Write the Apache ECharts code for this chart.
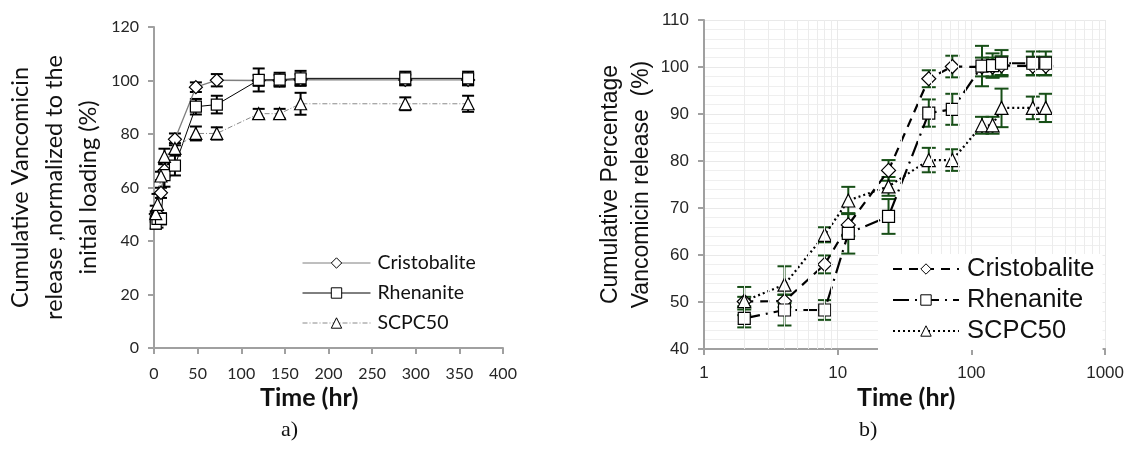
<!DOCTYPE html>
<html>
<head>
<meta charset="utf-8">
<script src="https://cdn.jsdelivr.net/npm/echarts@6/dist/echarts.min.js"></script>
<style>
  html, body { margin: 0; padding: 0; background: #fff; }
  #chart { width: 1127px; height: 454px; }
</style>
</head>
<body>
<div id="chart"></div>
<script>
// Sampling times (hours)
const times = [2, 4, 8, 12, 24, 48, 72, 120, 144, 168, 288, 360];

// Cumulative release (%) and standard deviations
const cristobalite    = [50.1, 50.2, 58.0, 66.4, 78.0, 97.5, 100.1, 100.0, 100.0, 100.3, 100.2, 100.2];
const cristobaliteErr = [1.0, 1.3, 1.9, 2.4, 2.2, 1.8, 2.3, 2.0, 2.0, 2.0, 2.0, 2.0];
const rhenanite       = [46.5, 48.3, 48.3, 64.6, 68.2, 90.2, 91.0, 100.2, 100.3, 100.8, 100.8, 100.8];
const rhenaniteErr    = [1.9, 3.3, 2.1, 4.3, 3.7, 2.9, 3.3, 4.3, 2.6, 2.8, 2.5, 2.5];
const scpc50          = [50.2, 53.7, 64.3, 71.6, 74.6, 80.2, 80.2, 87.6, 87.6, 91.3, 91.3, 91.3];
const scpc50Err       = [3.0, 3.9, 1.6, 2.9, 2.0, 2.6, 2.3, 1.8, 1.8, 4.1, 2.4, 3.0];

const seriesNames = ['Cristobalite', 'Rhenanite', 'SCPC50'];

// Axis ranges / ticks
const linTimeTicks = { min: 0, max: 400, interval: 50 };
const linPctTicks  = { min: 0, max: 120, interval: 20 };
const logTimeTicks = { min: 1, max: 1000 };
const logPctTicks  = { min: 40, max: 110, interval: 10 };

// Vertical log-grid lines at 2..9 of each decade
const logMinorX = [];
for (let d = 1; d < 1000; d *= 10) {
  for (let k = 2; k <= 9; k++) logMinorX.push(k * d);
}

const axisGray = '#a0a0a0';
const tickText = '#262626';
const errGreen = '#174f17';

function pairs(vals) { return times.map((t, i) => [t, vals[i]]); }

function errorBars(vals, errs, axisIdx, color, cap) {
  return {
    type: 'custom',
    xAxisIndex: axisIdx, yAxisIndex: axisIdx,
    z: 1, silent: true,
    encode: { x: 0, y: 1 },
    data: times.map((t, i) => [t, vals[i], errs[i]]),
    renderItem: function (params, api) {
      const x = api.value(0), y = api.value(1), e = api.value(2);
      const top = api.coord([x, y + e]);
      const bot = api.coord([x, y - e]);
      const w = cap / 2;
      const st = { stroke: color, lineWidth: 2 };
      return {
        type: 'group',
        children: [
          { type: 'line', shape: { x1: top[0], y1: top[1], x2: bot[0], y2: bot[1] }, style: st },
          { type: 'line', shape: { x1: top[0] - w, y1: top[1], x2: top[0] + w, y2: top[1] }, style: st },
          { type: 'line', shape: { x1: bot[0] - w, y1: bot[1], x2: bot[0] + w, y2: bot[1] }, style: st }
        ]
      };
    }
  };
}

function curve(name, vals, axisIdx, symbol, size, lineStyle) {
  return {
    type: 'line', name: name,
    xAxisIndex: axisIdx, yAxisIndex: axisIdx,
    z: 3,
    data: pairs(vals),
    symbol: symbol, symbolSize: size, showSymbol: true,
    lineStyle: lineStyle,
    itemStyle: { color: '#ffffff', borderColor: '#000000', borderWidth: 1.2 },
    emphasis: { disabled: true }
  };
}

// Panel b series carry a prefix so the two legends pick their own styles
const bName = n => 'b:' + n;

const chart = echarts.init(document.getElementById('chart'), null, { renderer: 'canvas' });

chart.setOption({
  animation: false,
  backgroundColor: '#ffffff',
  grid: [
    { left: 154, top: 27, width: 349, height: 321 },
    { left: 704, top: 20, width: 403, height: 329 }
  ],
  xAxis: [
    {
      type: 'value', gridIndex: 0,
      min: linTimeTicks.min, max: linTimeTicks.max, interval: linTimeTicks.interval,
      axisLine: { lineStyle: { color: axisGray, width: 2 } },
      axisTick: { show: true, length: 6, lineStyle: { color: axisGray, width: 2 } },
      axisLabel: { margin: 18, color: tickText, fontFamily: 'Lato', fontSize: 16 },
      splitLine: { show: false }
    },
    {
      type: 'log', gridIndex: 1, logBase: 10,
      min: logTimeTicks.min, max: logTimeTicks.max,
      axisLine: { lineStyle: { color: axisGray, width: 2 } },
      axisTick: { show: true, length: 6, lineStyle: { color: axisGray, width: 2 } },
      axisLabel: { margin: 16, color: tickText, fontFamily: 'Liberation Sans', fontSize: 17,
                   formatter: v => String(Math.round(v)) },
      splitLine: { show: true, lineStyle: { color: '#e9e9e9', width: 1 } }
    }
  ],
  yAxis: [
    {
      type: 'value', gridIndex: 0,
      min: linPctTicks.min, max: linPctTicks.max, interval: linPctTicks.interval,
      axisLine: { show: true, lineStyle: { color: axisGray, width: 2 } },
      axisTick: { show: true, length: 6, lineStyle: { color: axisGray, width: 2 } },
      axisLabel: { margin: 15, color: tickText, fontFamily: 'Lato', fontSize: 16 },
      splitLine: { show: false },
      name: 'Cumulative Vancomicin\nrelease ,normalized to the\ninitial loading (%)',
      nameLocation: 'middle', nameRotate: 90, nameGap: 49,
      nameTextStyle: { fontFamily: 'Lato', fontSize: 23.5, lineHeight: 34, color: '#111', align: 'center' }
    },
    {
      type: 'value', gridIndex: 1,
      min: logPctTicks.min, max: logPctTicks.max, interval: logPctTicks.interval,
      axisLine: { show: true, lineStyle: { color: axisGray, width: 2 } },
      axisTick: { show: true, length: 6, lineStyle: { color: axisGray, width: 2 } },
      axisLabel: { margin: 15, color: tickText, fontFamily: 'Liberation Sans', fontSize: 17 },
      splitLine: { show: true, lineStyle: { color: '#e9e9e9', width: 1 } },
      minorTick: { show: false, splitNumber: 5 },
      minorSplitLine: { show: true, lineStyle: { color: '#efefef', width: 1 } },
      name: 'Cumulative Percentage\nVancomicin release  (%)',
      nameLocation: 'middle', nameRotate: 90, nameGap: 45,
      nameTextStyle: { fontFamily: 'Liberation Sans', fontSize: 23, lineHeight: 31, color: '#111', align: 'center' }
    }
  ],
  legend: [
    {
      orient: 'vertical', left: 302, top: 253, padding: 0,
      itemWidth: 68, itemHeight: 13, itemGap: 10,
      data: seriesNames,
      lineStyle: { width: 1 },
      itemStyle: { borderWidth: 1 },
      textStyle: { fontFamily: 'Lato', fontSize: 19.5, lineHeight: 19, color: '#111', padding: [0, 0, 0, 2] },
      selectedMode: false
    },
    {
      orient: 'vertical', left: 878, top: 254, z: 10,
      padding: [2, 8, 6, 14],
      backgroundColor: '#ffffff',
      itemWidth: 66, itemHeight: 13, itemGap: 5,
      data: seriesNames.map(bName),
      formatter: n => n.replace(/^b:/, ''),
      itemStyle: { borderWidth: 1 },
      textStyle: { fontFamily: 'Liberation Sans', fontSize: 25.5, lineHeight: 25, color: '#111', padding: [0, 0, 0, 3] },
      selectedMode: false
    }
  ],
  graphic: [
    { type: 'text', left: 260, top: 385, style: { text: 'Time (hr)', font: 'bold 25px Lato', fill: '#111' } },
    { type: 'text', left: 857, top: 385, style: { text: 'Time (hr)', font: 'bold 25px Lato', fill: '#111' } },
    { type: 'text', left: 281, top: 419, style: { text: 'a)', font: '22px "Liberation Serif"', fill: '#111' } },
    { type: 'text', left: 859, top: 419, style: { text: 'b)', font: '22px "Liberation Serif"', fill: '#111' } }
  ],
  series: [
    // panel a: linear time axis
    errorBars(cristobalite, cristobaliteErr, 0, '#000000', 12),
    errorBars(rhenanite, rhenaniteErr, 0, '#000000', 12),
    errorBars(scpc50, scpc50Err, 0, '#000000', 12),
    curve('Cristobalite', cristobalite, 0, 'diamond', 13, { color: '#7f7f7f', width: 1.3, type: 'solid' }),
    curve('Rhenanite', rhenanite, 0, 'rect', 11, { color: '#000000', width: 1, type: 'solid' }),
    curve('SCPC50', scpc50, 0, 'triangle', 12, { color: '#8a8a8a', width: 1, type: [5, 2, 1, 2] }),

    // panel b: log time axis, with the 2..9 grid lines
    {
      type: 'line', xAxisIndex: 1, yAxisIndex: 1, z: 0, data: [], silent: true,
      markLine: {
        silent: true, symbol: ['none', 'none'], animation: false,
        label: { show: false },
        lineStyle: { color: '#ececec', width: 1, type: 'solid' },
        emphasis: { disabled: true },
        data: logMinorX.map(v => ({ xAxis: v }))
      }
    },
    errorBars(cristobalite, cristobaliteErr, 1, errGreen, 14),
    errorBars(rhenanite, rhenaniteErr, 1, errGreen, 14),
    errorBars(scpc50, scpc50Err, 1, errGreen, 14),
    curve(bName('Cristobalite'), cristobalite, 1, 'diamond', 14, { color: '#000000', width: 2.2, type: [9, 7] }),
    curve(bName('Rhenanite'), rhenanite, 1, 'rect', 12, { color: '#000000', width: 2.2, type: [16, 6, 2, 6] }),
    curve(bName('SCPC50'), scpc50, 1, 'triangle', 13, { color: '#000000', width: 2.2, type: [2, 3] })
  ]
});
</script>
</body>
</html>
